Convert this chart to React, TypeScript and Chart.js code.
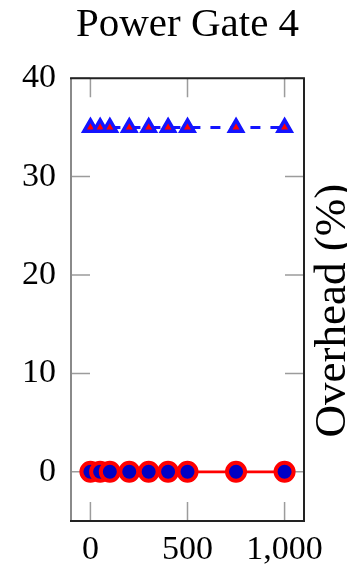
import React, { useEffect, useRef } from "react";
import { Chart, registerables } from "chart.js";

Chart.register(...registerables);

// Workload sizes on the x axis
const loadSizes = [0, 50, 100, 200, 300, 400, 500, 750, 1000];
// Overhead (%) with power gating, and the baseline overhead
const gatedOverhead = [0, 0, 0, 0, 0, 0, 0, 0, 0];
const baselineOverhead = [35, 35, 35, 35, 35, 35, 35, 35, 35];

const xTickValues = [0, 500, 1000];
const yTickValues = [0, 10, 20, 30, 40];

const chartTitle = "Power Gate 4";
const yAxisTitle = "Overhead (%)";

const SERIF = '"Liberation Serif", "Times New Roman", serif';

// Box frame with inward tick marks on all four sides
const frameTicks = {
  id: "frameTicks",
  beforeDatasetsDraw(chart: any) {
    const { ctx, chartArea: a, scales } = chart;
    const xs = scales.x;
    const ys = scales.y;
    const len = 19;
    ctx.save();
    ctx.strokeStyle = "#9c9c9c";
    ctx.lineWidth = 1.5;
    ctx.beginPath();
    for (const v of xTickValues) {
      const px = xs.getPixelForValue(v);
      ctx.moveTo(px, a.bottom);
      ctx.lineTo(px, a.bottom - len);
      ctx.moveTo(px, a.top);
      ctx.lineTo(px, a.top + len);
    }
    for (const v of yTickValues) {
      const py = ys.getPixelForValue(v);
      ctx.moveTo(a.left, py);
      ctx.lineTo(a.left + len, py);
      ctx.moveTo(a.right, py);
      ctx.lineTo(a.right - len, py);
    }
    ctx.stroke();

    ctx.lineWidth = 2;
    ctx.strokeStyle = "#8a8a8a";
    ctx.beginPath();
    ctx.moveTo(a.left, a.top);
    ctx.lineTo(a.left, a.bottom);
    ctx.stroke();
    ctx.strokeStyle = "#222";
    ctx.beginPath();
    ctx.moveTo(a.left - 1, a.top);
    ctx.lineTo(a.right, a.top);
    ctx.lineTo(a.right, a.bottom);
    ctx.lineTo(a.left - 1, a.bottom);
    ctx.stroke();
    ctx.restore();
  },
};

// Rotated axis caption on the right, reading bottom to top
const sideTitle = {
  id: "sideTitle",
  afterDraw(chart: any) {
    const { ctx, chartArea: a, width } = chart;
    ctx.save();
    ctx.translate(width - 2, (a.top + a.bottom) / 2 + 11);
    ctx.rotate(-Math.PI / 2);
    ctx.font = `45px ${SERIF}`;
    ctx.fillStyle = "#000";
    ctx.textAlign = "center";
    ctx.textBaseline = "alphabetic";
    ctx.fillText(yAxisTitle, 0, 0);
    ctx.restore();
  },
};

export default function App() {
  const canvasRef = useRef<HTMLCanvasElement | null>(null);

  useEffect(() => {
    if (!canvasRef.current) return;
    const chart = new Chart(canvasRef.current, {
      type: "line",
      data: {
        datasets: [
          {
            label: "Baseline",
            data: loadSizes.map((x, i) => ({ x, y: baselineOverhead[i] })),
            borderColor: "#1414ff",
            borderWidth: 3,
            borderDash: [10, 10],
            tension: 0,
            pointStyle: "triangle",
            pointRadius: 7.5,
            pointBorderWidth: 3.5,
            pointBackgroundColor: "#ff0000",
            pointBorderColor: "#1414ff",
          },
          {
            label: "Gated",
            data: loadSizes.map((x, i) => ({ x, y: gatedOverhead[i] })),
            borderColor: "#ff0000",
            borderWidth: 2.75,
            tension: 0,
            pointStyle: "circle",
            pointRadius: 9,
            pointBorderWidth: 4,
            pointBackgroundColor: "#0000c4",
            pointBorderColor: "#ff0000",
          },
        ],
      },
      options: {
        animation: false,
        responsive: false,
        devicePixelRatio: 1,
        layout: { padding: { left: 0, right: 43, top: 0, bottom: 0 } },
        plugins: {
          legend: { display: false },
          tooltip: { enabled: false },
          title: {
            display: true,
            text: chartTitle,
            fullSize: false,
            color: "#000",
            font: { family: SERIF, size: 41, weight: "normal" },
            padding: { top: 1, bottom: 28 },
          },
        },
        scales: {
          x: {
            type: "linear",
            min: -100,
            max: 1100,
            grid: { display: false, drawTicks: false },
            border: { display: false },
            afterBuildTicks: (s: any) => {
              s.ticks = xTickValues.map((value) => ({ value }));
            },
            afterFit: (s: any) => {
              s.height = 47;
            },
            ticks: {
              color: "#000",
              padding: 9,
              maxRotation: 0,
              font: { family: SERIF, size: 34 },
              callback: (v: any) => Number(v).toLocaleString("en-US"),
            },
          },
          y: {
            type: "linear",
            min: -5,
            max: 40,
            grid: { display: false, drawTicks: false },
            border: { display: false },
            afterBuildTicks: (s: any) => {
              s.ticks = yTickValues.map((value) => ({ value }));
            },
            afterFit: (s: any) => {
              s.width = 71;
            },
            ticks: {
              color: "#000",
              padding: 15,
              font: { family: SERIF, size: 34 },
              callback: (v: any) => String(v),
            },
          },
        },
      },
      plugins: [frameTicks, sideTitle],
    } as any);
    return () => chart.destroy();
  }, []);

  return (
    <div style={{ position: "absolute", left: 0, top: 0, width: 347, height: 568, background: "#fff" }}>
      <canvas ref={canvasRef} width={347} height={568} style={{ display: "block", width: 347, height: 568 }} />
    </div>
  );
}
